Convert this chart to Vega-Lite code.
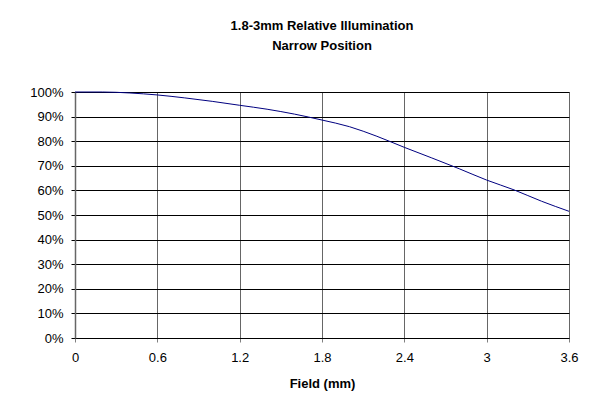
{
  "$schema": "https://vega.github.io/schema/vega-lite/v6.json",
  "autosize": "none",
  "width": 494,
  "height": 246,
  "padding": {"left": 75, "top": 92, "right": 23, "bottom": 65},
  "background": "white",
  "title": {
    "text": ["1.8-3mm Relative Illumination", "Narrow Position"],
    "font": "Liberation Sans",
    "fontSize": 13,
    "fontWeight": "bold",
    "color": "#000000",
    "lineHeight": 20,
    "anchor": "middle",
    "offset": 33
  },
  "config": {
    "view": {"stroke": "#808080", "strokeWidth": 1},
    "axis": {
      "labelFont": "Liberation Sans",
      "labelFontSize": 13,
      "labelColor": "#000000",
      "titleFont": "Liberation Sans",
      "titleFontSize": 13,
      "titleFontWeight": "bold",
      "titleColor": "#000000",
      "tickSize": 4,
      "tickColor": "#000000",
      "gridColor": "#000000",
      "gridOpacity": 1,
      "gridWidth": 1
    }
  },
  "data": {
    "values": [
      {"field": 0.0, "ri": 1.000},
      {"field": 0.2, "ri": 1.000},
      {"field": 0.4, "ri": 0.996},
      {"field": 0.6, "ri": 0.988},
      {"field": 0.8, "ri": 0.976},
      {"field": 1.0, "ri": 0.962},
      {"field": 1.2, "ri": 0.946},
      {"field": 1.4, "ri": 0.930},
      {"field": 1.6, "ri": 0.910},
      {"field": 1.8, "ri": 0.886},
      {"field": 2.0, "ri": 0.859},
      {"field": 2.2, "ri": 0.820},
      {"field": 2.4, "ri": 0.775},
      {"field": 2.6, "ri": 0.732},
      {"field": 2.8, "ri": 0.688},
      {"field": 3.0, "ri": 0.642},
      {"field": 3.2, "ri": 0.602},
      {"field": 3.4, "ri": 0.556},
      {"field": 3.6, "ri": 0.515}
    ]
  },
  "mark": {"type": "line", "color": "#000080", "strokeWidth": 1, "interpolate": "monotone"},
  "encoding": {
    "x": {
      "field": "field",
      "type": "quantitative",
      "title": "Field (mm)",
      "scale": {"domain": [0, 3.6], "nice": false, "zero": false},
      "axis": {
        "values": [0, 0.6, 1.2, 1.8, 2.4, 3, 3.6],
        "format": "~g",
        "labelPadding": 9,
        "titlePadding": 13,
        "domainColor": "#000000",
        "tickColor": "#808080",
        "gridColor": "#666666",
        "labelFlush": false
      }
    },
    "y": {
      "field": "ri",
      "type": "quantitative",
      "title": null,
      "scale": {"domain": [0, 1], "nice": false},
      "axis": {
        "values": [0, 0.1, 0.2, 0.3, 0.4, 0.5, 0.6, 0.7, 0.8, 0.9, 1],
        "format": ".0%",
        "labelPadding": 8,
        "domainColor": "#666666",
        "domainWidth": 1.5,
        "labelFlush": false
      }
    }
  }
}
